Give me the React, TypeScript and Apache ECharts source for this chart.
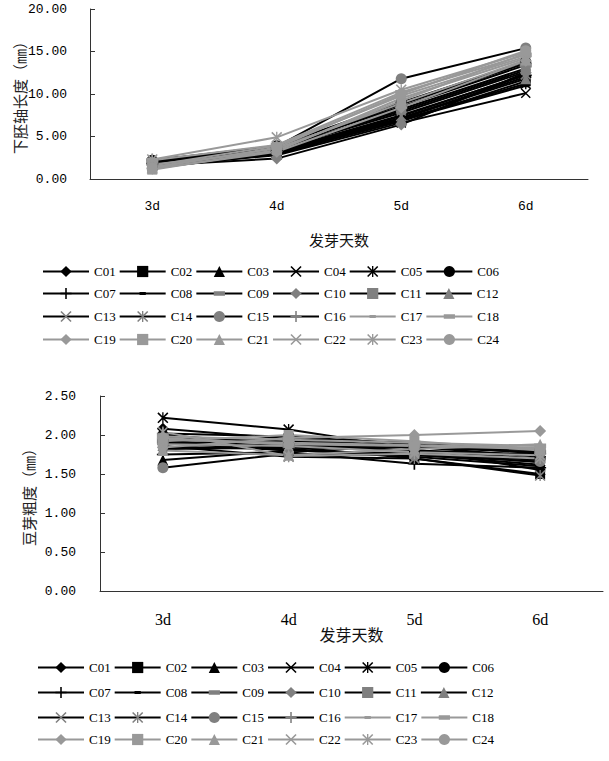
import React, { useEffect, useRef } from 'react';
import * as echarts from 'echarts';

const days = ['3d', '4d', '5d', '6d'];
const cultivars = [
  'C01', 'C02', 'C03', 'C04', 'C05', 'C06', 'C07', 'C08', 'C09', 'C10', 'C11', 'C12',
  'C13', 'C14', 'C15', 'C16', 'C17', 'C18', 'C19', 'C20', 'C21', 'C22', 'C23', 'C24',
];
const lengthTicks = [0, 5, 10, 15, 20];
const diameterTicks = [0, 0.5, 1, 1.5, 2, 2.5];

// 下胚轴长度 (mm) for 3d,4d,5d,6d
const hypocotylLength: number[][] = [
  [1.9, 3.2, 7.2, 12.0],
  [1.6, 3.0, 6.8, 11.5],
  [2.0, 3.5, 7.8, 12.6],
  [1.5, 2.8, 6.6, 10.1],
  [1.7, 3.1, 7.0, 11.2],
  [2.2, 3.9, 9.0, 13.8],
  [1.8, 3.3, 7.5, 12.2],
  [1.4, 2.9, 6.9, 11.0],
  [2.1, 3.7, 8.5, 13.4],
  [1.6, 2.4, 6.4, 12.5],
  [1.9, 3.4, 8.2, 13.0],
  [1.3, 3.0, 7.1, 11.8],
  [2.0, 3.6, 8.0, 12.8],
  [1.5, 3.1, 7.4, 12.3],
  [1.8, 3.8, 11.8, 15.4],
  [2.3, 3.5, 8.8, 13.6],
  [1.7, 3.3, 9.5, 14.2],
  [2.2, 4.0, 10.2, 14.6],
  [1.2, 3.2, 8.4, 13.9],
  [1.1, 3.4, 9.2, 14.8],
  [1.4, 3.6, 8.9, 14.0],
  [1.6, 3.9, 9.8, 14.4],
  [2.3, 4.9, 10.5, 14.9],
  [1.3, 3.7, 10.0, 15.1],
];

// 豆芽粗度 (mm) for 3d,4d,5d,6d
const sproutDiameter: number[][] = [
  [2.08, 1.95, 1.85, 1.72],
  [1.90, 1.85, 1.70, 1.50],
  [1.68, 1.80, 1.75, 1.62],
  [1.95, 1.90, 1.78, 1.65],
  [2.22, 2.07, 1.82, 1.55],
  [2.00, 1.88, 1.80, 1.70],
  [1.75, 1.78, 1.63, 1.58],
  [1.85, 1.82, 1.72, 1.60],
  [1.92, 1.86, 1.84, 1.78],
  [1.88, 1.95, 1.90, 1.82],
  [1.96, 1.92, 1.86, 1.80],
  [1.82, 1.84, 1.80, 1.75],
  [1.90, 1.80, 1.76, 1.68],
  [1.86, 1.72, 1.70, 1.48],
  [1.58, 1.76, 1.74, 1.66],
  [2.02, 1.98, 1.88, 1.76],
  [1.94, 1.90, 1.87, 1.84],
  [1.98, 1.94, 1.90, 1.86],
  [1.84, 1.96, 2.00, 2.05],
  [1.92, 2.00, 1.92, 1.80],
  [1.80, 1.74, 1.82, 1.88],
  [1.88, 1.86, 1.78, 1.74],
  [2.04, 1.73, 1.76, 1.70],
  [1.96, 1.88, 1.86, 1.82],
];

// invisible zero-area anchors keep the bounding box square so dashes stay flat
const ANCHORS = 'M0,0L0,0.01 M100,100L100,99.99 ';
const X_SYM = 'path://M0,10L10,0L100,90L90,100Z M90,0L100,10L10,100L0,90Z';
const AST_SYM = 'path://M0,10L10,0L100,90L90,100Z M90,0L100,10L10,100L0,90Z M44,0L56,0L56,100L44,100Z';
const PLUS_SYM = 'path://M43,0L57,0L57,100L43,100Z M0,44L100,44L100,56L0,56Z';
const SMALL_DASH = 'path://' + ANCHORS + 'M22,36L78,36L78,64L22,64Z';
const BIG_DASH = 'path://' + ANCHORS + 'M0,30L100,30L100,70L0,70Z';

const symbols = [
  'diamond', 'rect', 'triangle', X_SYM, AST_SYM, 'circle', PLUS_SYM, SMALL_DASH,
  BIG_DASH, 'diamond', 'rect', 'triangle', X_SYM, AST_SYM, 'circle', PLUS_SYM,
  SMALL_DASH, BIG_DASH, 'diamond', 'rect', 'triangle', X_SYM, AST_SYM, 'circle',
];
const symbolSizes = [
  12, 10, 11, 10, 11, 11, 12, 12,
  12, 12, 10, 11, 10, 11, 11, 12,
  12, 12, 12, 10, 11, 10, 11, 11,
];

const lineColor = (i: number) => (i < 16 ? '#000000' : '#999999');
const markerColor = (i: number) => (i < 8 ? '#000000' : i < 16 ? '#808080' : '#999999');

const AXIS_COLOR = '#333333';

export default function App() {
  const ref = useRef<HTMLDivElement>(null);

  useEffect(() => {
    document.body.style.margin = '0';
    if (!ref.current) return;
    const chart = echarts.init(ref.current, undefined, { renderer: 'svg' });

    const makeSeries = (data: number[][], idx: number) =>
      cultivars.map((name, i) => ({
        type: 'line',
        name,
        xAxisIndex: idx,
        yAxisIndex: idx,
        data: data[i],
        symbol: symbols[i],
        symbolSize: symbolSizes[i],
        symbolKeepAspect: true,
        showSymbol: true,
        lineStyle: { color: lineColor(i), width: 2 },
        itemStyle: { color: markerColor(i) },
        emphasis: { disabled: true },
      }));

    const makeLegends = (tops: number[], left: number) =>
      tops.map((top, r) => ({
        data: cultivars.slice(r * 6, r * 6 + 6),
        top,
        left,
        orient: 'horizontal',
        padding: 0,
        itemWidth: 46,
        itemHeight: 14,
        itemGap: 3,
        selectedMode: false,
        textStyle: { fontFamily: 'Liberation Serif', fontSize: 13, color: '#000' },
      }));

    const xAxisBase = {
      type: 'category',
      data: days,
      boundaryGap: true,
      axisLine: { lineStyle: { color: AXIS_COLOR, width: 1 } },
      axisTick: { inside: true, length: 5, lineStyle: { color: AXIS_COLOR } },
      nameLocation: 'middle',
      nameMoveOverlap: false,
      nameTextStyle: { fontFamily: 'Noto Sans CJK SC', fontSize: 15, color: '#111' },
    };

    const yAxisBase = {
      type: 'value',
      axisLine: { show: true, lineStyle: { color: AXIS_COLOR, width: 1 } },
      axisTick: { show: true, inside: true, length: 5, lineStyle: { color: AXIS_COLOR } },
      splitLine: { show: false },
      nameLocation: 'middle',
      nameRotate: 90,
      nameMoveOverlap: false,
      nameTextStyle: { fontFamily: 'Noto Sans CJK SC', fontSize: 15, color: '#222' },
    };

    chart.setOption({
      animation: false,
      backgroundColor: '#ffffff',
      grid: [
        { left: 90, top: 9, width: 498, height: 170 },
        { left: 100, top: 396, width: 503, height: 195 },
      ],
      xAxis: [
        {
          ...xAxisBase,
          gridIndex: 0,
          name: '发芽天数',
          nameGap: 53,
          axisLabel: { margin: 21, fontFamily: 'Liberation Mono', fontSize: 13, color: '#000' },
        },
        {
          ...xAxisBase,
          gridIndex: 1,
          name: '发芽天数',
          nameGap: 35,
          nameTextStyle: { fontFamily: 'Noto Sans CJK SC', fontSize: 16, color: '#111' },
          axisLabel: { margin: 20, fontFamily: 'Liberation Serif', fontSize: 16, color: '#000' },
        },
      ],
      yAxis: [
        {
          ...yAxisBase,
          gridIndex: 0,
          min: lengthTicks[0],
          max: lengthTicks[lengthTicks.length - 1],
          interval: lengthTicks[1] - lengthTicks[0],
          name: '下胚轴长度（㎜）',
          nameGap: 63,
          axisLabel: {
            margin: 23,
            fontFamily: 'Liberation Mono',
            fontSize: 13,
            color: '#000',
            formatter: (v: number) => v.toFixed(2),
          },
        },
        {
          ...yAxisBase,
          gridIndex: 1,
          min: diameterTicks[0],
          max: diameterTicks[diameterTicks.length - 1],
          interval: diameterTicks[1] - diameterTicks[0],
          name: '豆芽粗度（㎜）',
          nameGap: 64,
          axisLabel: {
            margin: 24,
            fontFamily: 'Liberation Mono',
            fontSize: 13,
            color: '#000',
            formatter: (v: number) => v.toFixed(2),
          },
        },
      ],
      legend: [...makeLegends([265, 287, 310, 333], 42), ...makeLegends([661, 686, 711, 733], 37)],
      series: [...makeSeries(hypocotylLength, 0), ...makeSeries(sproutDiameter, 1)],
    } as any);

    return () => chart.dispose();
  }, []);

  return <div ref={ref} style={{ width: 609, height: 761 }} />;
}
